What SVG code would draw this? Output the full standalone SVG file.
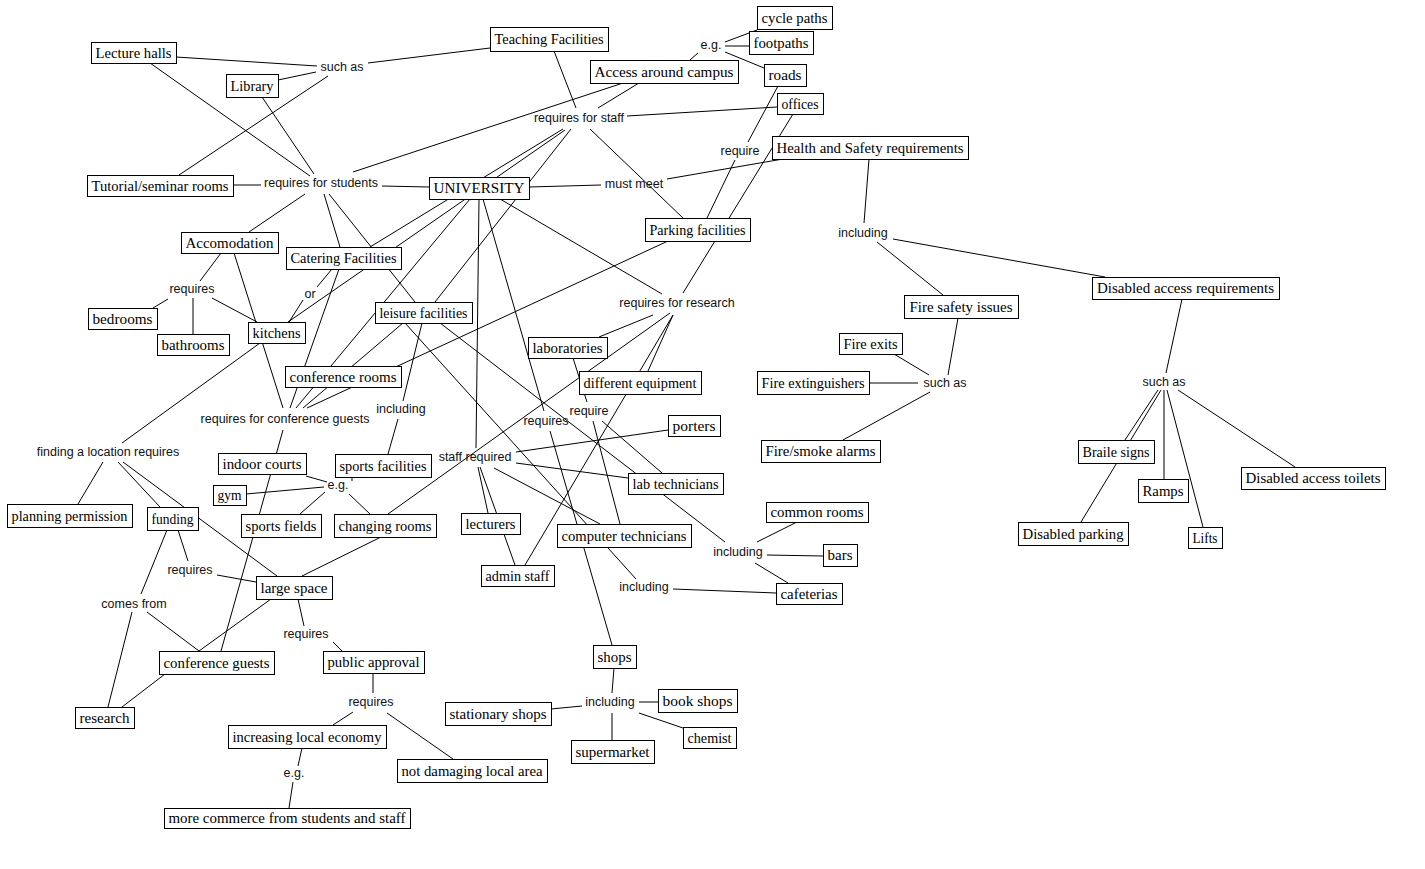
<svg xmlns="http://www.w3.org/2000/svg" width="1425" height="869" viewBox="0 0 1425 869">
<style>
.n rect{fill:#fff;stroke:#000;stroke-width:1}
.n text{font-family:"Liberation Serif","Times New Roman",serif;font-size:15px;fill:#000;text-anchor:middle}
.l{font-family:"Liberation Sans",Arial,sans-serif;font-size:12.5px;fill:#111;text-anchor:middle}
#connectors line{stroke:#000;stroke-width:1}
</style>
<rect width="1425" height="869" fill="#fff"/>
<g id="connectors">
<line x1="176" y1="57" x2="317" y2="66"/>
<line x1="278" y1="80" x2="316" y2="72"/>
<line x1="328" y1="76" x2="179" y2="175"/>
<line x1="368" y1="63" x2="490" y2="48"/>
<line x1="150" y1="63" x2="310" y2="176"/>
<line x1="262" y1="97" x2="314" y2="174"/>
<line x1="233" y1="185" x2="261" y2="185"/>
<line x1="305" y1="194" x2="249" y2="232"/>
<line x1="324" y1="194" x2="340" y2="247"/>
<line x1="329" y1="194" x2="415" y2="302"/>
<line x1="382" y1="186" x2="429" y2="187"/>
<line x1="353" y1="172" x2="623" y2="83"/>
<line x1="554" y1="51" x2="576" y2="108"/>
<line x1="639" y1="83" x2="598" y2="108"/>
<line x1="627" y1="116" x2="777" y2="107"/>
<line x1="563" y1="129" x2="370" y2="247"/>
<line x1="565" y1="130" x2="288" y2="322"/>
<line x1="571" y1="129" x2="435" y2="302"/>
<line x1="590" y1="129" x2="683" y2="218"/>
<line x1="529" y1="187" x2="601" y2="185"/>
<line x1="667" y1="179" x2="783" y2="159"/>
<line x1="690" y1="60" x2="698" y2="53"/>
<line x1="725" y1="42" x2="757" y2="30"/>
<line x1="725" y1="46" x2="749" y2="46"/>
<line x1="725" y1="52" x2="764" y2="68"/>
<line x1="778" y1="86" x2="748" y2="142"/>
<line x1="735" y1="160" x2="707" y2="218"/>
<line x1="793" y1="114" x2="683" y2="293"/>
<line x1="869" y1="159" x2="864" y2="223"/>
<line x1="877" y1="242" x2="943" y2="295"/>
<line x1="893" y1="239" x2="1105" y2="277"/>
<line x1="500" y1="199" x2="662" y2="294"/>
<line x1="479" y1="199" x2="476" y2="448"/>
<line x1="483" y1="199" x2="544" y2="411"/>
<line x1="470" y1="199" x2="296" y2="408"/>
<line x1="668" y1="241" x2="307" y2="408"/>
<line x1="234" y1="253" x2="283" y2="408"/>
<line x1="339" y1="269" x2="290" y2="408"/>
<line x1="403" y1="323" x2="303" y2="408"/>
<line x1="221" y1="253" x2="200" y2="281"/>
<line x1="168" y1="299" x2="153" y2="308"/>
<line x1="193" y1="298" x2="193" y2="334"/>
<line x1="212" y1="298" x2="257" y2="322"/>
<line x1="332" y1="269" x2="317" y2="287"/>
<line x1="303" y1="300" x2="289" y2="322"/>
<line x1="260" y1="343" x2="122" y2="443"/>
<line x1="103" y1="462" x2="78" y2="504"/>
<line x1="118" y1="462" x2="160" y2="507"/>
<line x1="123" y1="462" x2="277" y2="576"/>
<line x1="178" y1="530" x2="188" y2="561"/>
<line x1="217" y1="575" x2="256" y2="582"/>
<line x1="167" y1="530" x2="141" y2="594"/>
<line x1="132" y1="612" x2="108" y2="707"/>
<line x1="147" y1="612" x2="199" y2="651"/>
<line x1="271" y1="599" x2="199" y2="651"/>
<line x1="165" y1="674" x2="122" y2="707"/>
<line x1="221" y1="651" x2="283" y2="430"/>
<line x1="298" y1="599" x2="304" y2="626"/>
<line x1="333" y1="642" x2="342" y2="651"/>
<line x1="373" y1="673" x2="373" y2="693"/>
<line x1="353" y1="712" x2="333" y2="725"/>
<line x1="387" y1="713" x2="453" y2="759"/>
<line x1="302" y1="748" x2="298" y2="766"/>
<line x1="293" y1="782" x2="289" y2="808"/>
<line x1="422" y1="323" x2="403" y2="401"/>
<line x1="398" y1="419" x2="388" y2="454"/>
<line x1="352" y1="477" x2="352" y2="481"/>
<line x1="306" y1="476" x2="327" y2="482"/>
<line x1="324" y1="487" x2="246" y2="494"/>
<line x1="325" y1="492" x2="300" y2="514"/>
<line x1="349" y1="494" x2="370" y2="514"/>
<line x1="381" y1="537" x2="302" y2="576"/>
<line x1="670" y1="313" x2="388" y2="514"/>
<line x1="440" y1="323" x2="725" y2="542"/>
<line x1="405" y1="323" x2="636" y2="579"/>
<line x1="550" y1="431" x2="612" y2="645"/>
<line x1="478" y1="467" x2="488" y2="513"/>
<line x1="480" y1="467" x2="515" y2="565"/>
<line x1="516" y1="452" x2="668" y2="430"/>
<line x1="516" y1="463" x2="628" y2="478"/>
<line x1="494" y1="468" x2="600" y2="524"/>
<line x1="525" y1="565" x2="673" y2="315"/>
<line x1="648" y1="371" x2="673" y2="315"/>
<line x1="653" y1="315" x2="599" y2="337"/>
<line x1="573" y1="358" x2="587" y2="402"/>
<line x1="593" y1="421" x2="620" y2="524"/>
<line x1="602" y1="421" x2="662" y2="473"/>
<line x1="757" y1="542" x2="797" y2="522"/>
<line x1="767" y1="555" x2="823" y2="556"/>
<line x1="755" y1="563" x2="788" y2="583"/>
<line x1="673" y1="589" x2="776" y2="593"/>
<line x1="614" y1="668" x2="612" y2="693"/>
<line x1="582" y1="706" x2="551" y2="709"/>
<line x1="639" y1="702" x2="658" y2="702"/>
<line x1="639" y1="713" x2="683" y2="728"/>
<line x1="612" y1="713" x2="612" y2="740"/>
<line x1="958" y1="318" x2="948" y2="375"/>
<line x1="894" y1="354" x2="929" y2="375"/>
<line x1="869" y1="383" x2="918" y2="383"/>
<line x1="930" y1="392" x2="843" y2="440"/>
<line x1="1182" y1="299" x2="1166" y2="373"/>
<line x1="1158" y1="390" x2="1125" y2="440"/>
<line x1="1161" y1="390" x2="1081" y2="522"/>
<line x1="1164" y1="390" x2="1164" y2="479"/>
<line x1="1167" y1="390" x2="1203" y2="527"/>
<line x1="1178" y1="390" x2="1295" y2="467"/>
</g>
<g id="labels">
<text class="l" x="342" y="71">such as</text>
<text class="l" x="321" y="187">requires for students</text>
<text class="l" x="579" y="122">requires for staff</text>
<text class="l" x="634" y="188">must meet</text>
<text class="l" x="711" y="49">e.g.</text>
<text class="l" x="740" y="155">require</text>
<text class="l" x="863" y="237">including</text>
<text class="l" x="192" y="293">requires</text>
<text class="l" x="310" y="298">or</text>
<text class="l" x="285" y="423">requires for conference guests</text>
<text class="l" x="401" y="413">including</text>
<text class="l" x="338" y="489">e.g.</text>
<text class="l" x="108" y="456">finding a location requires</text>
<text class="l" x="190" y="574">requires</text>
<text class="l" x="134" y="608">comes from</text>
<text class="l" x="306" y="638">requires</text>
<text class="l" x="371" y="706">requires</text>
<text class="l" x="294" y="777">e.g.</text>
<text class="l" x="677" y="307">requires for research</text>
<text class="l" x="475" y="461">staff required</text>
<text class="l" x="546" y="425">requires</text>
<text class="l" x="589" y="415">require</text>
<text class="l" x="738" y="556">including</text>
<text class="l" x="644" y="591">including</text>
<text class="l" x="610" y="706">including</text>
<text class="l" x="945" y="387">such as</text>
<text class="l" x="1164" y="386">such as</text>
</g>
<g id="n1" class="n"><rect x="91.5" y="42.5" width="85" height="21"/><text x="133.5" y="57.5" textLength="76" lengthAdjust="spacingAndGlyphs">Lecture halls</text></g>
<g id="n2" class="n"><rect x="226.5" y="74.5" width="52" height="23"/><text x="252" y="90.5" textLength="43" lengthAdjust="spacingAndGlyphs">Library</text></g>
<g id="n3" class="n"><rect x="490.5" y="27.5" width="118" height="24"/><text x="549" y="44" textLength="109" lengthAdjust="spacingAndGlyphs">Teaching Facilities</text></g>
<g id="n4" class="n"><rect x="590.5" y="60.5" width="148" height="23"/><text x="664" y="76.5" textLength="139" lengthAdjust="spacingAndGlyphs">Access around campus</text></g>
<g id="n5" class="n"><rect x="757.5" y="6.5" width="75" height="23"/><text x="794.5" y="22.5" textLength="66" lengthAdjust="spacingAndGlyphs">cycle paths</text></g>
<g id="n6" class="n"><rect x="749.5" y="31.5" width="64" height="23"/><text x="781" y="47.5" textLength="55" lengthAdjust="spacingAndGlyphs">footpaths</text></g>
<g id="n7" class="n"><rect x="764.5" y="64.5" width="42" height="22"/><text x="785" y="80" textLength="33" lengthAdjust="spacingAndGlyphs">roads</text></g>
<g id="n8" class="n"><rect x="777.5" y="93.5" width="46" height="21"/><text x="800" y="108.5" textLength="37" lengthAdjust="spacingAndGlyphs">offices</text></g>
<g id="n9" class="n"><rect x="772.5" y="136.5" width="196" height="23"/><text x="870" y="152.5" textLength="187" lengthAdjust="spacingAndGlyphs">Health and Safety requirements</text></g>
<g id="n10" class="n"><rect x="87.5" y="175.5" width="146" height="21"/><text x="160" y="190.5" textLength="137" lengthAdjust="spacingAndGlyphs">Tutorial/seminar rooms</text></g>
<g id="n11" class="n"><rect x="429.5" y="177.5" width="100" height="22"/><text x="479" y="193" textLength="91" lengthAdjust="spacingAndGlyphs">UNIVERSITY</text></g>
<g id="n12" class="n"><rect x="645.5" y="218.5" width="105" height="23"/><text x="697.5" y="234.5" textLength="96" lengthAdjust="spacingAndGlyphs">Parking facilities</text></g>
<g id="n13" class="n"><rect x="181.5" y="232.5" width="97" height="21"/><text x="229.5" y="247.5" textLength="88" lengthAdjust="spacingAndGlyphs">Accomodation</text></g>
<g id="n14" class="n"><rect x="286.5" y="247.5" width="115" height="22"/><text x="343.5" y="263" textLength="106" lengthAdjust="spacingAndGlyphs">Catering Facilities</text></g>
<g id="n15" class="n"><rect x="1092.5" y="277.5" width="187" height="22"/><text x="1185.5" y="293" textLength="177" lengthAdjust="spacingAndGlyphs">Disabled access requirements</text></g>
<g id="n16" class="n"><rect x="904.5" y="295.5" width="114" height="23"/><text x="961" y="311.5" textLength="103" lengthAdjust="spacingAndGlyphs">Fire safety issues</text></g>
<g id="n17" class="n"><rect x="375.5" y="302.5" width="97" height="21"/><text x="423.5" y="317.5" textLength="88" lengthAdjust="spacingAndGlyphs">leisure facilities</text></g>
<g id="n18" class="n"><rect x="88.5" y="308.5" width="69" height="21"/><text x="122.5" y="323.5" textLength="60" lengthAdjust="spacingAndGlyphs">bedrooms</text></g>
<g id="n19" class="n"><rect x="248.5" y="322.5" width="57" height="21"/><text x="276.5" y="337.5" textLength="48" lengthAdjust="spacingAndGlyphs">kitchens</text></g>
<g id="n20" class="n"><rect x="157.5" y="334.5" width="72" height="21"/><text x="193" y="349.5" textLength="63" lengthAdjust="spacingAndGlyphs">bathrooms</text></g>
<g id="n21" class="n"><rect x="528.5" y="337.5" width="79" height="21"/><text x="567.5" y="352.5" textLength="70" lengthAdjust="spacingAndGlyphs">laboratories</text></g>
<g id="n22" class="n"><rect x="839.5" y="333.5" width="63" height="21"/><text x="870.5" y="348.5" textLength="54" lengthAdjust="spacingAndGlyphs">Fire exits</text></g>
<g id="n23" class="n"><rect x="285.5" y="366.5" width="116" height="21"/><text x="343" y="381.5" textLength="107" lengthAdjust="spacingAndGlyphs">conference rooms</text></g>
<g id="n24" class="n"><rect x="579.5" y="371.5" width="122" height="23"/><text x="640" y="387.5" textLength="113" lengthAdjust="spacingAndGlyphs">different equipment</text></g>
<g id="n25" class="n"><rect x="757.5" y="371.5" width="112" height="23"/><text x="813" y="387.5" textLength="103" lengthAdjust="spacingAndGlyphs">Fire extinguishers</text></g>
<g id="n26" class="n"><rect x="668.5" y="415.5" width="52" height="21"/><text x="694" y="430.5" textLength="43" lengthAdjust="spacingAndGlyphs">porters</text></g>
<g id="n27" class="n"><rect x="1078.5" y="440.5" width="76" height="23"/><text x="1116" y="456.5" textLength="67" lengthAdjust="spacingAndGlyphs">Braile signs</text></g>
<g id="n28" class="n"><rect x="761.5" y="440.5" width="119" height="22"/><text x="820.5" y="456" textLength="110" lengthAdjust="spacingAndGlyphs">Fire/smoke alarms</text></g>
<g id="n29" class="n"><rect x="218.5" y="453.5" width="88" height="21"/><text x="262" y="468.5" textLength="79" lengthAdjust="spacingAndGlyphs">indoor courts</text></g>
<g id="n30" class="n"><rect x="335.5" y="454.5" width="96" height="23"/><text x="383" y="470.5" textLength="87" lengthAdjust="spacingAndGlyphs">sports facilities</text></g>
<g id="n31" class="n"><rect x="1241.5" y="467.5" width="144" height="22"/><text x="1313" y="483" textLength="135" lengthAdjust="spacingAndGlyphs">Disabled access toilets</text></g>
<g id="n32" class="n"><rect x="628.5" y="473.5" width="95" height="21"/><text x="675.5" y="488.5" textLength="86" lengthAdjust="spacingAndGlyphs">lab technicians</text></g>
<g id="n33" class="n"><rect x="1138.5" y="479.5" width="50" height="23"/><text x="1163" y="495.5" textLength="41" lengthAdjust="spacingAndGlyphs">Ramps</text></g>
<g id="n34" class="n"><rect x="213.5" y="485.5" width="33" height="20"/><text x="229.5" y="500" textLength="24" lengthAdjust="spacingAndGlyphs">gym</text></g>
<g id="n35" class="n"><rect x="766.5" y="502.5" width="102" height="20"/><text x="817" y="517" textLength="93" lengthAdjust="spacingAndGlyphs">common rooms</text></g>
<g id="n36" class="n"><rect x="7.5" y="504.5" width="125" height="23"/><text x="69.5" y="520.5" textLength="116" lengthAdjust="spacingAndGlyphs">planning permission</text></g>
<g id="n37" class="n"><rect x="147.5" y="507.5" width="51" height="23"/><text x="172.5" y="523.5" textLength="42" lengthAdjust="spacingAndGlyphs">funding</text></g>
<g id="n38" class="n"><rect x="461.5" y="513.5" width="59" height="21"/><text x="490.5" y="528.5" textLength="50" lengthAdjust="spacingAndGlyphs">lecturers</text></g>
<g id="n39" class="n"><rect x="241.5" y="514.5" width="80" height="23"/><text x="281" y="530.5" textLength="71" lengthAdjust="spacingAndGlyphs">sports fields</text></g>
<g id="n40" class="n"><rect x="334.5" y="514.5" width="102" height="23"/><text x="385" y="530.5" textLength="93" lengthAdjust="spacingAndGlyphs">changing rooms</text></g>
<g id="n41" class="n"><rect x="1018.5" y="522.5" width="110" height="23"/><text x="1073" y="538.5" textLength="101" lengthAdjust="spacingAndGlyphs">Disabled parking</text></g>
<g id="n42" class="n"><rect x="557.5" y="524.5" width="134" height="23"/><text x="624" y="540.5" textLength="125" lengthAdjust="spacingAndGlyphs">computer technicians</text></g>
<g id="n43" class="n"><rect x="1188.5" y="527.5" width="34" height="21"/><text x="1205" y="542.5" textLength="25" lengthAdjust="spacingAndGlyphs">Lifts</text></g>
<g id="n44" class="n"><rect x="823.5" y="544.5" width="34" height="22"/><text x="840" y="560" textLength="25" lengthAdjust="spacingAndGlyphs">bars</text></g>
<g id="n45" class="n"><rect x="481.5" y="565.5" width="73" height="21"/><text x="517.5" y="580.5" textLength="64" lengthAdjust="spacingAndGlyphs">admin staff</text></g>
<g id="n46" class="n"><rect x="256.5" y="576.5" width="76" height="23"/><text x="294" y="592.5" textLength="67" lengthAdjust="spacingAndGlyphs">large space</text></g>
<g id="n47" class="n"><rect x="776.5" y="583.5" width="66" height="21"/><text x="809" y="598.5" textLength="57" lengthAdjust="spacingAndGlyphs">cafeterias</text></g>
<g id="n48" class="n"><rect x="593.5" y="645.5" width="43" height="23"/><text x="614.5" y="661.5" textLength="34" lengthAdjust="spacingAndGlyphs">shops</text></g>
<g id="n49" class="n"><rect x="159.5" y="651.5" width="115" height="23"/><text x="216.5" y="667.5" textLength="106" lengthAdjust="spacingAndGlyphs">conference guests</text></g>
<g id="n50" class="n"><rect x="323.5" y="651.5" width="101" height="22"/><text x="373.5" y="667" textLength="92" lengthAdjust="spacingAndGlyphs">public approval</text></g>
<g id="n51" class="n"><rect x="658.5" y="689.5" width="79" height="23"/><text x="697.5" y="705.5" textLength="70" lengthAdjust="spacingAndGlyphs">book shops</text></g>
<g id="n52" class="n"><rect x="445.5" y="702.5" width="106" height="23"/><text x="498" y="718.5" textLength="97" lengthAdjust="spacingAndGlyphs">stationary shops</text></g>
<g id="n53" class="n"><rect x="75.5" y="707.5" width="59" height="21"/><text x="104.5" y="722.5" textLength="50" lengthAdjust="spacingAndGlyphs">research</text></g>
<g id="n54" class="n"><rect x="228.5" y="725.5" width="158" height="23"/><text x="307" y="741.5" textLength="149" lengthAdjust="spacingAndGlyphs">increasing local economy</text></g>
<g id="n55" class="n"><rect x="683.5" y="727.5" width="53" height="21"/><text x="709.5" y="742.5" textLength="44" lengthAdjust="spacingAndGlyphs">chemist</text></g>
<g id="n56" class="n"><rect x="571.5" y="740.5" width="83" height="23"/><text x="612.5" y="756.5" textLength="74" lengthAdjust="spacingAndGlyphs">supermarket</text></g>
<g id="n57" class="n"><rect x="397.5" y="759.5" width="150" height="23"/><text x="472" y="775.5" textLength="141" lengthAdjust="spacingAndGlyphs">not damaging local area</text></g>
<g id="n58" class="n"><rect x="164.5" y="808.5" width="246" height="20"/><text x="287" y="823" textLength="237" lengthAdjust="spacingAndGlyphs">more commerce from students and staff</text></g>
</svg>
